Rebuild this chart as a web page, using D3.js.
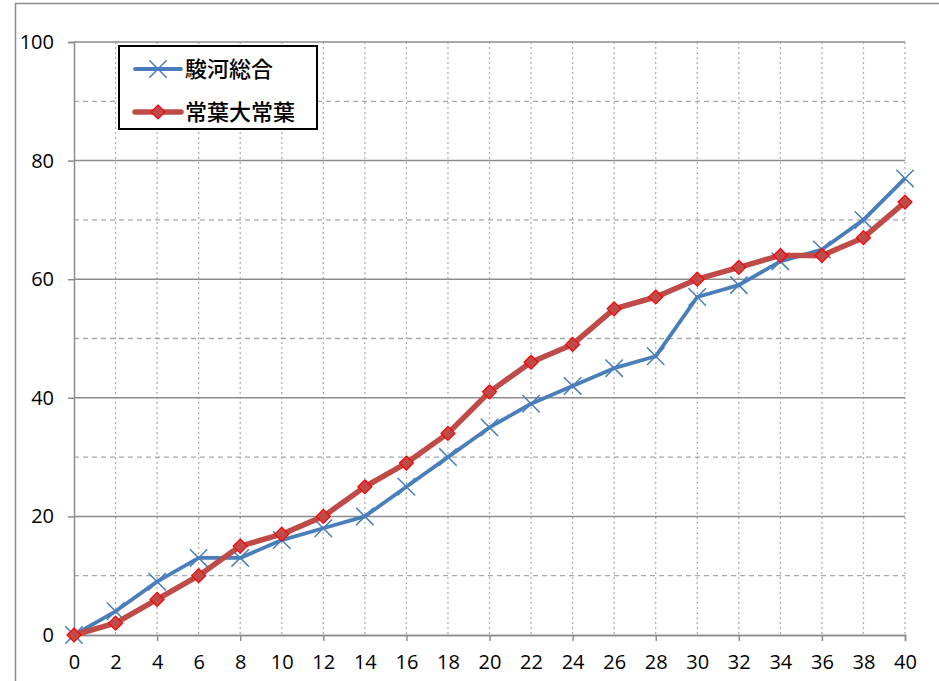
<!DOCTYPE html>
<html>
<head>
<meta charset="utf-8">
<script src="https://cdn.jsdelivr.net/npm/d3@7"></script>
<style>
  body { margin: 0; background: #fff; }
  text { font-family: "Open Sans", "Noto Sans", sans-serif; }
  .tick text { font-size: 20px !important; fill: #000; }
</style>
</head>
<body>
<div id="chart"></div>
<script>
const xValues = [0, 2, 4, 6, 8, 10, 12, 14, 16, 18, 20, 22, 24, 26, 28, 30, 32, 34, 36, 38, 40];
const surugaSogo = [0, 4, 9, 13, 13, 16, 18, 20, 25, 30, 35, 39, 42, 45, 47, 57, 59, 63, 65, 70, 77];
const tokohaTokoha = [0, 2, 6, 10, 15, 17, 20, 25, 29, 34, 41, 46, 49, 55, 57, 60, 62, 64, 64, 67, 73];
const seriesNames = ["駿河総合", "常葉大常葉"];
const yTicks = [0, 20, 40, 60, 80, 100];

const W = 939, H = 681;
const margin = { top: 42, right: 34, bottom: 46, left: 74 };
const width = W - margin.left - margin.right;
const height = H - margin.top - margin.bottom;

const svg = d3.select("#chart").append("svg")
    .attr("width", W)
    .attr("height", H);

// outer chart frame
svg.append("rect")
    .attr("x", 15.5).attr("y", 3.5)
    .attr("width", W + 10).attr("height", H + 10)
    .attr("fill", "none").attr("stroke", "#8c8c8c").attr("stroke-width", 1.5);

const g = svg.append("g").attr("transform", `translate(${margin.left},${margin.top})`);

const x = d3.scaleLinear().domain([0, 40]).range([0, width]);
const y = d3.scaleLinear().domain([0, 100]).range([height, 0]);

// vertical dotted grid at every category
g.append("g").selectAll("line")
    .data(xValues.filter(d => d > 0))
    .join("line")
    .attr("x1", d => x(d)).attr("x2", d => x(d))
    .attr("y1", 0).attr("y2", height)
    .attr("stroke", "#b0b0b0").attr("stroke-width", 1.3)
    .attr("stroke-dasharray", "2,3");

// minor dashed horizontal grid
g.append("g").selectAll("line")
    .data(d3.range(10, 100, 20))
    .join("line")
    .attr("x1", 0).attr("x2", width)
    .attr("y1", d => y(d)).attr("y2", d => y(d))
    .attr("stroke", "#a8a8a8").attr("stroke-width", 1.3)
    .attr("stroke-dasharray", "5,4");

// major horizontal grid
g.append("g").selectAll("line")
    .data(yTicks.filter(d => d > 0))
    .join("line")
    .attr("x1", 0).attr("x2", width)
    .attr("y1", d => y(d)).attr("y2", d => y(d))
    .attr("stroke", "#8c8c8c").attr("stroke-width", 1.5);

// axes
g.append("g")
    .call(d3.axisLeft(y).tickValues(yTicks).tickSize(6).tickPadding(14));
g.append("g")
    .attr("transform", `translate(0,${height})`)
    .call(d3.axisBottom(x).tickValues(xValues).tickSize(0).tickPadding(20).tickFormat(d3.format("d")));
g.append("g")
    .attr("transform", `translate(0,${height})`)
    .call(d3.axisBottom(x).tickValues(d3.range(0, 41, 4)).tickSize(6).tickFormat(""));

g.selectAll(".domain, .tick line").attr("stroke", "#8c8c8c").attr("stroke-width", 1.5);

const line = d3.line().x((d, i) => x(xValues[i])).y(d => y(d));

const blue = "#4a7ebb", red = "#be4b48";

// 駿河総合
g.append("path").datum(surugaSogo)
    .attr("d", line).attr("fill", "none")
    .attr("stroke", blue).attr("stroke-width", 3.8).attr("stroke-linejoin", "round");
const cross = d3.symbol().type(d3.symbolX).size(200);
g.append("g").selectAll("path")
    .data(surugaSogo)
    .join("path")
    .attr("transform", (d, i) => `translate(${x(xValues[i])},${y(d)})`)
    .attr("d", cross)
    .attr("fill", "none").attr("stroke", blue).attr("stroke-width", 1.5);

// 常葉大常葉
g.append("path").datum(tokohaTokoha)
    .attr("d", line).attr("fill", "none")
    .attr("stroke", red).attr("stroke-width", 5.5).attr("stroke-linejoin", "round");
const diamond = d3.symbol().type(d3.symbolDiamond2).size(125);
g.append("g").selectAll("path")
    .data(tokohaTokoha)
    .join("path")
    .attr("transform", (d, i) => `translate(${x(xValues[i])},${y(d)})`)
    .attr("d", diamond)
    .attr("fill", red).attr("stroke", "#ff0000").attr("stroke-width", 1.2);

// legend
const legend = svg.append("g").attr("transform", "translate(119,46)");
legend.append("rect")
    .attr("width", 198).attr("height", 83)
    .attr("fill", "#fff").attr("stroke", "#000").attr("stroke-width", 2);
const items = [
    { name: seriesNames[0], color: blue, w: 3.8, sym: cross, fill: "none", stroke: blue, sw: 1.5 },
    { name: seriesNames[1], color: red, w: 5.5, sym: diamond, fill: red, stroke: "#ff0000", sw: 1.2 }
];
items.forEach((it, i) => {
    const cy = 23 + i * 43;
    legend.append("line")
        .attr("x1", 16).attr("x2", 62).attr("y1", cy).attr("y2", cy)
        .attr("stroke", it.color).attr("stroke-width", it.w).attr("stroke-linecap", "round");
    legend.append("path")
        .attr("transform", `translate(39,${cy})`)
        .attr("d", it.sym)
        .attr("fill", it.fill).attr("stroke", it.stroke).attr("stroke-width", it.sw);
    legend.append("text")
        .attr("x", 66).attr("y", cy)
        .attr("dy", "0.36em")
        .style("font-family", "'Noto Sans CJK JP', sans-serif")
        .style("font-size", "22px")
        .style("font-weight", 500)
        .text(it.name);
});
</script>
</body>
</html>
